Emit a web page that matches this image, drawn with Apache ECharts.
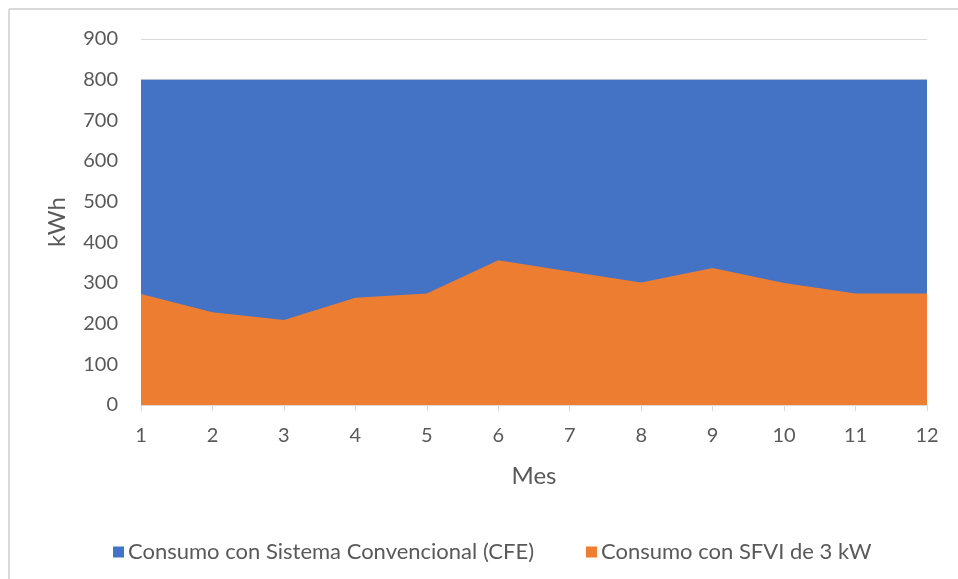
<!DOCTYPE html>
<html>
<head>
<meta charset="utf-8">
<script src="https://cdn.jsdelivr.net/npm/echarts@6/dist/echarts.min.js"></script>
<style>html,body{margin:0;padding:0;background:#fff;}#c{width:958px;height:579px;}</style>
</head>
<body>
<div id="c"></div>
<script>
const months = ['1','2','3','4','5','6','7','8','9','10','11','12'];
const consumoCFE = [800,800,800,800,800,800,800,800,800,800,800,800];
const consumoSFVI = [273,228,209,264,274,356,328,301,337,300,274,274];
const seriesNames = ['Consumo con Sistema Convencional (CFE)','Consumo con SFVI de 3 kW'];
const FONT = 'Lato';
const TXT = '#595959';

const chart = echarts.init(document.getElementById('c'));
chart.setOption({
  animation: false,
  backgroundColor: '#fff',
  textStyle: {fontFamily: FONT},
  graphic: [
    {type:'line', shape:{x1:9, y1:9, x2:958, y2:9}, style:{stroke:'#d9d9d9', lineWidth:2}},
    {type:'line', shape:{x1:9, y1:9, x2:9, y2:579}, style:{stroke:'#d9d9d9', lineWidth:2}}
  ],
  grid: {left:141, right:31, top:39, bottom:174, containLabel:false},
  legend: {
    left: 108, top: 536,
    itemWidth: 11, itemHeight: 11, itemGap: 52,
    icon: 'rect',
    textStyle: {fontFamily: FONT, fontSize: 22, color: TXT, padding:[0,0,0,-1]},
    data: seriesNames
  },
  xAxis: {
    type: 'category', data: months, boundaryGap: false,
    name: 'Mes', nameLocation: 'middle', nameGap: 59,
    nameTextStyle: {fontFamily: FONT, fontSize: 24, color: TXT},
    axisLine: {lineStyle: {color: '#d9d9d9', width: 1}},
    axisTick: {show: true, length: 6, lineStyle: {color: '#d9d9d9'}},
    axisLabel: {fontFamily: FONT, fontSize: 20, color: TXT, margin: 21},
    splitLine: {show: false}
  },
  yAxis: {
    type: 'value', min: 0, max: 900, interval: 100,
    name: 'kWh', nameLocation: 'middle', nameGap: 72, nameRotate: 90,
    nameTextStyle: {fontFamily: FONT, fontSize: 24, color: TXT},
    axisLine: {show: false}, axisTick: {show: false},
    axisLabel: {fontFamily: FONT, fontSize: 20, color: TXT, margin: 23},
    splitLine: {lineStyle: {color: '#d9d9d9', width: 1}}
  },
  series: [
    {name: seriesNames[0], type: 'line', data: consumoCFE, showSymbol: false, symbol: 'none',
     itemStyle: {color: '#4472C4'}, lineStyle: {width: 0}, areaStyle: {color: '#4472C4', opacity: 1}},
    {name: seriesNames[1], type: 'line', data: consumoSFVI, showSymbol: false, symbol: 'none',
     itemStyle: {color: '#ED7D31'}, lineStyle: {width: 0}, areaStyle: {color: '#ED7D31', opacity: 1}}
  ]
});
</script>
</body>
</html>
